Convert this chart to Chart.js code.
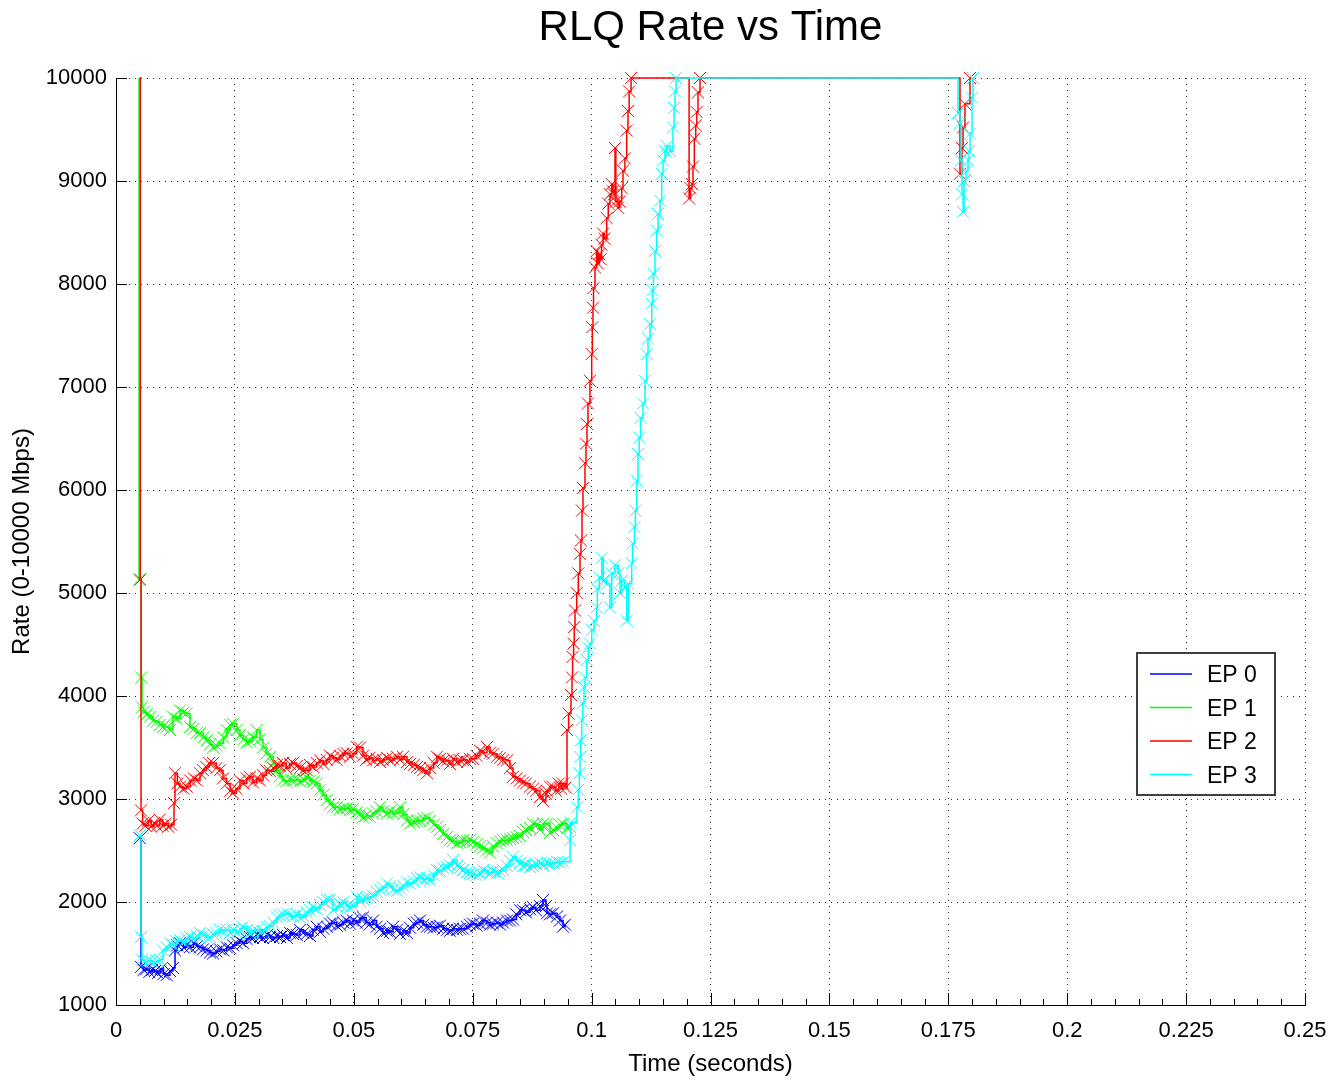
<!DOCTYPE html>
<html><head><meta charset="utf-8">
<script src="https://cdn.jsdelivr.net/npm/chart.js@4.4.1/dist/chart.umd.min.js"></script>
<style>html,body{margin:0;padding:0;background:#fff}#wrap{width:1330px;height:1080px}</style>
</head><body><div id="wrap"><canvas id="c" width="1330" height="1080"></canvas></div>
<script>
// ---- data (time in seconds, rate in Mbps) ----
const xTicks = [0, 0.025, 0.05, 0.075, 0.1, 0.125, 0.15, 0.175, 0.2, 0.225, 0.25];
const xTickLabels = ['0','0.025','0.05','0.075','0.1','0.125','0.15','0.175','0.2','0.225','0.25'];
const xMinorStep = 0.005;
const yTicks = [1000, 2000, 3000, 4000, 5000, 6000, 7000, 8000, 9000, 10000];
const yTickLabels = ['1000','2000','3000','4000','5000','6000','7000','8000','9000','10000'];
const seriesLabels = ['EP 0', 'EP 1', 'EP 2', 'EP 3'];

const ep0 = [[0.00500,2620],[0.00526,1370],[0.00580,1340],[0.00640,1350],[0.00700,1320],[0.00760,1340],[0.00820,1330],[0.00880,1310],[0.00940,1350],[0.01000,1300],[0.01066,1290],[0.01135,1330],[0.01198,1360],[0.01241,1530],[0.01290,1580],[0.01346,1600],[0.01420,1560],[0.01487,1580],[0.01556,1560],[0.01630,1600],[0.01697,1570],[0.01766,1560],[0.01829,1540],[0.01907,1530],[0.01976,1510],[0.02040,1500],[0.02110,1520],[0.02187,1540],[0.02260,1530],[0.02328,1560],[0.02400,1550],[0.02460,1580],[0.02538,1600],[0.02607,1620],[0.02670,1600],[0.02748,1640],[0.02817,1660],[0.02881,1650],[0.02958,1680],[0.03028,1660],[0.03091,1650],[0.03175,1680],[0.03238,1660],[0.03310,1650],[0.03385,1670],[0.03448,1660],[0.03511,1680],[0.03595,1650],[0.03659,1700],[0.03722,1690],[0.03800,1680],[0.03869,1730],[0.03940,1700],[0.04010,1690],[0.04080,1670],[0.04142,1730],[0.04220,1760],[0.04289,1710],[0.04360,1740],[0.04437,1760],[0.04500,1790],[0.04563,1800],[0.04641,1770],[0.04710,1780],[0.04780,1800],[0.04851,1820],[0.04920,1790],[0.04983,1820],[0.05061,1800],[0.05130,1840],[0.05193,1850],[0.05260,1800],[0.05330,1780],[0.05404,1820],[0.05480,1760],[0.05551,1740],[0.05614,1700],[0.05698,1720],[0.05761,1710],[0.05824,1760],[0.05908,1730],[0.05971,1690],[0.06034,1720],[0.06119,1700],[0.06182,1750],[0.06260,1790],[0.06329,1800],[0.06392,1820],[0.06460,1780],[0.06539,1760],[0.06602,1760],[0.06680,1750],[0.06749,1760],[0.06812,1770],[0.06880,1740],[0.06960,1730],[0.07023,1720],[0.07086,1740],[0.07170,1730],[0.07233,1740],[0.07296,1740],[0.07380,1760],[0.07443,1780],[0.07506,1790],[0.07580,1770],[0.07653,1790],[0.07717,1820],[0.07801,1800],[0.07864,1780],[0.07927,1790],[0.08011,1800],[0.08074,1780],[0.08137,1800],[0.08221,1820],[0.08284,1820],[0.08347,1830],[0.08420,1880],[0.08495,1920],[0.08558,1920],[0.08620,1900],[0.08705,1930],[0.08768,1950],[0.08830,1920],[0.08915,1960],[0.08978,2020],[0.09040,1960],[0.09062,1890],[0.09125,1880],[0.09188,1890],[0.09273,1860],[0.09336,1820],[0.09399,1760],[0.09441,1780]];

const ep1 = [[0.00480,10000],[0.00485,5130],[0.00530,4180],[0.00547,3890],[0.00580,3845],[0.00640,3820],[0.00715,3800],[0.00780,3760],[0.00856,3750],[0.00920,3720],[0.00990,3700],[0.01066,3700],[0.01135,3670],[0.01198,3800],[0.01270,3780],[0.01346,3860],[0.01420,3840],[0.01487,3830],[0.01556,3700],[0.01630,3680],[0.01697,3640],[0.01766,3640],[0.01840,3600],[0.01907,3570],[0.01976,3530],[0.02040,3500],[0.02110,3520],[0.02187,3540],[0.02260,3600],[0.02328,3670],[0.02400,3720],[0.02460,3730],[0.02538,3670],[0.02607,3620],[0.02680,3580],[0.02748,3550],[0.02817,3560],[0.02881,3600],[0.02958,3670],[0.03028,3580],[0.03091,3500],[0.03160,3440],[0.03238,3410],[0.03310,3340],[0.03379,3280],[0.03448,3220],[0.03511,3180],[0.03580,3170],[0.03659,3190],[0.03722,3180],[0.03800,3190],[0.03869,3170],[0.03940,3190],[0.04010,3210],[0.04080,3180],[0.04150,3170],[0.04220,3150],[0.04289,3085],[0.04360,3040],[0.04430,2990],[0.04500,2950],[0.04563,2920],[0.04641,2920],[0.04710,2900],[0.04780,2910],[0.04851,2910],[0.04920,2890],[0.04983,2900],[0.05061,2870],[0.05130,2850],[0.05193,2820],[0.05260,2840],[0.05330,2830],[0.05404,2860],[0.05480,2880],[0.05551,2920],[0.05614,2880],[0.05698,2860],[0.05761,2880],[0.05824,2860],[0.05908,2870],[0.05971,2920],[0.06034,2850],[0.06119,2790],[0.06182,2760],[0.06260,2780],[0.06329,2790],[0.06392,2790],[0.06460,2810],[0.06539,2820],[0.06602,2790],[0.06680,2750],[0.06749,2730],[0.06812,2700],[0.06880,2660],[0.06960,2630],[0.07023,2600],[0.07086,2590],[0.07170,2570],[0.07233,2580],[0.07296,2600],[0.07380,2590],[0.07443,2600],[0.07506,2580],[0.07580,2560],[0.07653,2540],[0.07717,2520],[0.07801,2500],[0.07864,2480],[0.07927,2540],[0.08011,2570],[0.08074,2590],[0.08137,2600],[0.08221,2600],[0.08284,2610],[0.08347,2620],[0.08420,2630],[0.08495,2640],[0.08558,2680],[0.08620,2700],[0.08705,2720],[0.08768,2760],[0.08852,2750],[0.08915,2700],[0.08978,2760],[0.09062,2760],[0.09125,2670],[0.09188,2700],[0.09273,2720],[0.09336,2750],[0.09399,2760],[0.09483,2720],[0.09546,2730]];

const ep2 = [[0.00505,10000],[0.00510,5130],[0.00526,2890],[0.00560,2760],[0.00620,2740],[0.00680,2790],[0.00740,2730],[0.00800,2770],[0.00860,2740],[0.00920,2800],[0.00980,2740],[0.01040,2760],[0.01100,2730],[0.01160,2750],[0.01220,2960],[0.01240,3250],[0.01290,3150],[0.01346,3120],[0.01420,3100],[0.01487,3120],[0.01560,3180],[0.01640,3200],[0.01697,3180],[0.01766,3250],[0.01829,3280],[0.01900,3310],[0.01960,3350],[0.02040,3350],[0.02110,3300],[0.02187,3280],[0.02250,3200],[0.02328,3150],[0.02400,3080],[0.02460,3055],[0.02530,3100],[0.02607,3180],[0.02680,3150],[0.02750,3200],[0.02817,3215],[0.02881,3160],[0.02958,3200],[0.03028,3180],[0.03091,3230],[0.03160,3280],[0.03238,3270],[0.03310,3300],[0.03380,3330],[0.03448,3320],[0.03511,3350],[0.03580,3300],[0.03659,3340],[0.03722,3350],[0.03800,3320],[0.03869,3300],[0.03940,3280],[0.04010,3280],[0.04080,3330],[0.04150,3310],[0.04220,3350],[0.04289,3375],[0.04360,3340],[0.04430,3380],[0.04500,3420],[0.04563,3400],[0.04641,3380],[0.04710,3420],[0.04780,3440],[0.04851,3445],[0.04920,3410],[0.04983,3440],[0.05061,3505],[0.05130,3500],[0.05193,3420],[0.05260,3380],[0.05330,3400],[0.05404,3375],[0.05480,3390],[0.05551,3360],[0.05614,3380],[0.05698,3400],[0.05761,3375],[0.05824,3390],[0.05908,3410],[0.05971,3380],[0.06034,3410],[0.06119,3360],[0.06182,3340],[0.06260,3330],[0.06329,3310],[0.06392,3300],[0.06460,3280],[0.06539,3250],[0.06602,3300],[0.06680,3350],[0.06749,3410],[0.06812,3390],[0.06880,3370],[0.06960,3375],[0.07023,3340],[0.07086,3390],[0.07170,3360],[0.07233,3375],[0.07296,3380],[0.07380,3360],[0.07443,3390],[0.07506,3390],[0.07580,3420],[0.07653,3470],[0.07717,3450],[0.07801,3505],[0.07864,3450],[0.07927,3440],[0.08011,3410],[0.08074,3400],[0.08137,3380],[0.08221,3375],[0.08284,3300],[0.08347,3215],[0.08420,3200],[0.08495,3180],[0.08558,3160],[0.08620,3150],[0.08705,3120],[0.08768,3100],[0.08830,3080],[0.08915,3020],[0.08978,2980],[0.09040,3050],[0.09062,3080],[0.09125,3120],[0.09188,3120],[0.09250,3080],[0.09310,3150],[0.09360,3100],[0.09399,3150],[0.09450,3110],[0.09483,3670],[0.09517,3830],[0.09567,4010],[0.09588,4180],[0.09600,4380],[0.09622,4510],[0.09635,4670],[0.09651,4830],[0.09687,5000],[0.09720,5190],[0.09756,5380],[0.09777,5510],[0.09798,5800],[0.09819,6020],[0.09861,6260],[0.09882,6450],[0.09903,6640],[0.09924,6840],[0.09966,7060],[0.10002,7320],[0.10015,7580],[0.10029,7770],[0.10040,7960],[0.10071,8160],[0.10107,8320],[0.10130,8200],[0.10160,8290],[0.10190,8240],[0.10210,8380],[0.10240,8490],[0.10270,8440],[0.10318,8640],[0.10350,8780],[0.10387,8870],[0.10423,8970],[0.10450,8900],[0.10470,8870],[0.10492,9320],[0.10510,8800],[0.10555,8740],[0.10590,8800],[0.10633,8930],[0.10660,9100],[0.10700,9220],[0.10738,9490],[0.10765,9680],[0.10790,9870],[0.10830,10000],[0.12050,8830],[0.12080,8930],[0.12110,8970],[0.12132,9140],[0.12160,9410],[0.12190,9540],[0.12210,9670],[0.12237,9860],[0.12279,10000],[0.17746,9070],[0.17788,9320],[0.17810,9520],[0.17850,9750],[0.17956,10000]];

const ep3 = [[0.00500,2650],[0.00526,1660],[0.00547,1440],[0.00600,1420],[0.00680,1430],[0.00760,1420],[0.00860,1430],[0.00925,1440],[0.00988,1530],[0.01066,1560],[0.01135,1600],[0.01200,1580],[0.01270,1620],[0.01346,1630],[0.01420,1610],[0.01487,1650],[0.01556,1660],[0.01630,1640],[0.01697,1670],[0.01766,1700],[0.01840,1680],[0.01907,1660],[0.01976,1660],[0.02040,1690],[0.02110,1700],[0.02187,1730],[0.02260,1720],[0.02328,1730],[0.02400,1700],[0.02460,1730],[0.02538,1700],[0.02607,1740],[0.02670,1760],[0.02748,1720],[0.02817,1700],[0.02881,1720],[0.02958,1730],[0.03028,1700],[0.03091,1720],[0.03175,1760],[0.03238,1770],[0.03310,1800],[0.03385,1850],[0.03448,1870],[0.03511,1880],[0.03595,1890],[0.03659,1870],[0.03722,1860],[0.03800,1880],[0.03869,1850],[0.03940,1860],[0.04010,1900],[0.04080,1920],[0.04142,1950],[0.04220,1930],[0.04289,1970],[0.04360,2000],[0.04437,2020],[0.04500,2020],[0.04563,1920],[0.04641,1950],[0.04710,1980],[0.04780,2000],[0.04851,1960],[0.04920,1950],[0.04983,1960],[0.05067,2050],[0.05130,2010],[0.05193,2030],[0.05260,2040],[0.05330,2050],[0.05404,2060],[0.05480,2100],[0.05551,2120],[0.05614,2140],[0.05698,2180],[0.05761,2150],[0.05824,2120],[0.05908,2110],[0.05971,2130],[0.06034,2160],[0.06119,2190],[0.06182,2180],[0.06260,2200],[0.06329,2230],[0.06392,2240],[0.06460,2220],[0.06539,2230],[0.06602,2210],[0.06680,2260],[0.06749,2310],[0.06812,2300],[0.06880,2330],[0.06960,2340],[0.07023,2360],[0.07086,2410],[0.07170,2350],[0.07233,2330],[0.07296,2310],[0.07380,2290],[0.07443,2280],[0.07506,2270],[0.07580,2260],[0.07653,2280],[0.07717,2310],[0.07801,2290],[0.07864,2280],[0.07927,2300],[0.08011,2280],[0.08074,2300],[0.08137,2310],[0.08221,2350],[0.08284,2400],[0.08347,2440],[0.08420,2400],[0.08495,2380],[0.08558,2350],[0.08620,2360],[0.08705,2340],[0.08768,2350],[0.08830,2370],[0.08915,2380],[0.08978,2360],[0.09062,2380],[0.09125,2370],[0.09188,2380],[0.09273,2390],[0.09336,2380],[0.09399,2390],[0.09546,2600],[0.09555,2770],[0.09693,2920],[0.09720,3090],[0.09743,3250],[0.09756,3410],[0.09770,3570],[0.09792,3765],[0.09813,3930],[0.09840,4085],[0.09861,4180],[0.09897,4350],[0.09930,4470],[0.09966,4510],[0.10002,4640],[0.10050,4730],[0.10107,4860],[0.10120,5040],[0.10162,5150],[0.10212,5340],[0.10246,5120],[0.10318,5090],[0.10387,4860],[0.10423,5190],[0.10492,5270],[0.10562,5190],[0.10597,5000],[0.10633,5120],[0.10702,5060],[0.10738,4730],[0.10771,5090],[0.10843,5290],[0.10864,5480],[0.10900,5640],[0.10920,5800],[0.10950,6090],[0.10976,6350],[0.11000,6510],[0.11030,6700],[0.11080,6840],[0.11123,7060],[0.11158,7320],[0.11186,7470],[0.11228,7610],[0.11264,7810],[0.11280,7940],[0.11300,8100],[0.11333,8320],[0.11369,8520],[0.11396,8680],[0.11438,8810],[0.11474,9070],[0.11501,9200],[0.11543,9290],[0.11579,9340],[0.11648,9290],[0.11711,9520],[0.11733,9710],[0.11754,9870],[0.11775,10000],[0.17704,9660],[0.17746,9560],[0.17768,9200],[0.17788,8870],[0.17810,8700],[0.17830,9000],[0.17870,9100],[0.17914,9200],[0.17935,9290],[0.17956,9460],[0.17998,9810],[0.18020,10000]];

// ---- presentation ----
const FONT = "'Liberation Sans', Arial, Helvetica, sans-serif";
const seriesData = [ep0, ep1, ep2, ep3];
const seriesColors = ['#0000ff', '#00ff00', '#ff0000', '#00ffff'];
const hideFirstMarker = [false, true, true, false];

const innerTicks = {
  id: 'innerTicks',
  beforeDatasetsDraw(chart) {
    const {ctx, scales: {x, y}, chartArea: a} = chart;
    ctx.save();
    ctx.strokeStyle = '#000';
    ctx.lineWidth = 1;
    ctx.beginPath();
    const x0 = xTicks[0], x1 = xTicks[xTicks.length - 1];
    const n = Math.round((x1 - x0) / xMinorStep);
    for (let k = 0; k <= n; k++) {
      const v = x0 + k * xMinorStep;
      const px = Math.round(x.getPixelForValue(v)) + 0.5;
      ctx.moveTo(px, a.bottom);
      ctx.lineTo(px, a.bottom - 6);
    }
    xTicks.forEach(v => {
      const px = Math.round(x.getPixelForValue(v)) + 0.5;
      ctx.moveTo(px, a.bottom);
      ctx.lineTo(px, a.bottom - 12);
    });
    yTicks.forEach(v => {
      const py = Math.round(y.getPixelForValue(v)) + 0.5;
      ctx.moveTo(a.left, py);
      ctx.lineTo(a.left + 11, py);
    });
    ctx.stroke();
    ctx.restore();
  }
};

const boxLegend = {
  id: 'boxLegend',
  afterDraw(chart) {
    const {ctx, chartArea: a} = chart;
    const L = a.right - 168, T = a.top + 575, W = 138, H = 142;
    ctx.save();
    ctx.fillStyle = '#fff';
    ctx.fillRect(L, T, W, H);
    ctx.strokeStyle = '#404040';
    ctx.lineWidth = 2;
    ctx.strokeRect(L, T, W, H);
    ctx.font = '23px ' + FONT;
    ctx.textBaseline = 'middle';
    ctx.textAlign = 'left';
    chart.data.datasets.forEach((ds, i) => {
      const yy = T + 21 + i * 33.5;
      ctx.strokeStyle = ds.borderColor;
      ctx.lineWidth = 1.5;
      ctx.beginPath();
      ctx.moveTo(L + 13, yy);
      ctx.lineTo(L + 55, yy);
      ctx.stroke();
      ctx.fillStyle = '#000';
      ctx.fillText(ds.label, L + 70, yy + 2);
    });
    ctx.restore();
  }
};

new Chart(document.getElementById('c'), {
  type: 'line',
  data: {
    datasets: seriesData.map((d, i) => ({
      label: seriesLabels[i],
      data: d.map(p => ({x: p[0], y: p[1]})),
      borderColor: seriesColors[i],
      backgroundColor: seriesColors[i],
      borderWidth: 1.5,
      stepped: true,
      tension: 0,
      fill: false,
      clip: false,
      order: seriesData.length - 1 - i,
      pointStyle: 'crossRot',
      pointRadius: c => (hideFirstMarker[i] && c.dataIndex === 0) ? 0 : 8.5,
      pointBorderWidth: 1,
      pointBorderColor: seriesColors[i]
    }))
  },
  options: {
    responsive: false,
    animation: false,
    events: [],
    layout: {padding: {left: 0, right: 25, top: 0, bottom: 0}},
    plugins: {
      legend: {display: false},
      tooltip: {enabled: false},
      title: {
        display: true,
        fullSize: false,
        text: 'RLQ Rate vs Time',
        color: '#000',
        font: {family: FONT, size: 42, weight: 'normal'},
        padding: {top: 3, bottom: 24.6}
      }
    },
    scales: {
      x: {
        type: 'linear',
        min: 0, max: 0.25,
        afterBuildTicks: s => { s.ticks = xTicks.map(v => ({value: v})); },
        afterFit: s => { s.height = 75; s.paddingRight = 20; s.paddingLeft = 0; },
        ticks: {
          callback: (v, i) => xTickLabels[i],
          font: {family: FONT, size: 22},
          color: '#000',
          padding: 13,
          maxRotation: 0,
          autoSkip: false
        },
        grid: {color: 'rgba(0,0,0,0.85)', lineWidth: 1, drawTicks: false},
        border: {display: true, color: '#000', width: 1, dash: [1, 5]},
        title: {display: true, text: 'Time (seconds)', color: '#000', font: {family: FONT, size: 24}, padding: {top: 0, bottom: 1}}
      },
      y: {
        type: 'linear',
        min: 1000, max: 10000,
        afterBuildTicks: s => { s.ticks = yTicks.map(v => ({value: v})); },
        afterFit: s => { s.width = 116; },
        ticks: {
          callback: (v, i) => yTickLabels[i],
          font: {family: FONT, size: 22},
          color: '#000',
          padding: 9,
          autoSkip: false
        },
        grid: {color: 'rgba(0,0,0,0.85)', lineWidth: 1, drawTicks: false},
        border: {display: true, color: '#000', width: 1, dash: [1, 5]},
        title: {display: true, text: 'Rate (0-10000 Mbps)', color: '#000', font: {family: FONT, size: 24}, padding: {top: 8, bottom: 0}}
      }
    }
  },
  plugins: [innerTicks, boxLegend]
});
</script>
</body></html>
